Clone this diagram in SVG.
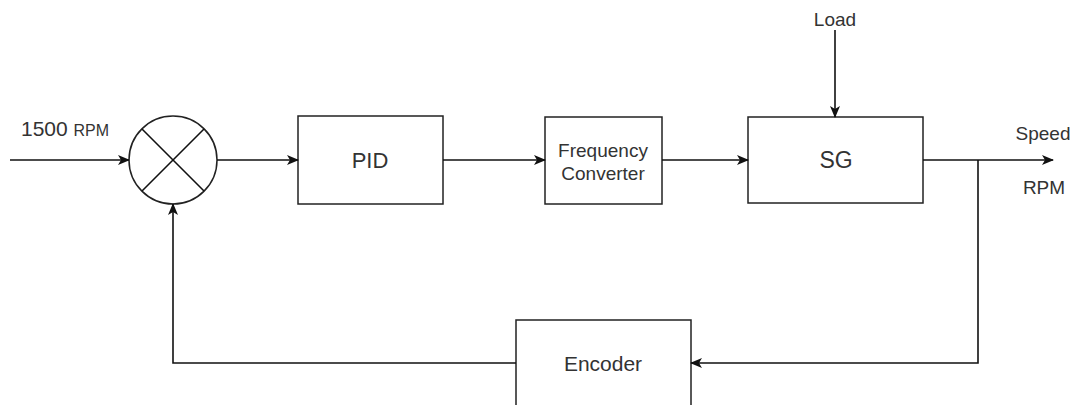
<svg xmlns="http://www.w3.org/2000/svg" width="1080" height="405" viewBox="0 0 1080 405">
<defs>
<style>
.box{fill:#fff;stroke:#222;stroke-width:1.5}
.ln{fill:none;stroke:#111;stroke-width:1.6}
text{font-family:"Liberation Sans",Arial,sans-serif;fill:#333}
</style>
<marker id="arr" viewBox="0 0 12 10" refX="11" refY="5" markerWidth="12" markerHeight="10" markerUnits="userSpaceOnUse" orient="auto">
<path d="M0,0 L12,5 L0,10 L3,5 Z" fill="#111"/>
</marker>
</defs>
<rect width="1080" height="405" fill="#fff"/>
<g id="sum">
<circle cx="173" cy="160" r="44" class="box"/>
<line x1="142" y1="129" x2="204" y2="191" class="ln"/>
<line x1="204" y1="129" x2="142" y2="191" class="ln"/>
</g>
<g id="pid"><rect x="298" y="116" width="145" height="88" class="box"/><text x="370" y="168" font-size="22" text-anchor="middle">PID</text></g>
<g id="fc"><rect x="545" y="117" width="117" height="87" class="box"/><text x="603" y="157" font-size="19" text-anchor="middle">Frequency</text><text x="603" y="180" font-size="19" text-anchor="middle">Converter</text></g>
<g id="sg"><rect x="748" y="117" width="175" height="86" class="box"/><text x="836" y="168" font-size="23" text-anchor="middle">SG</text></g>
<g id="encoder"><rect x="516" y="320" width="175" height="100" class="box"/><text x="603" y="371" font-size="21" text-anchor="middle">Encoder</text></g>
<g id="labels">
<text x="21" y="136" font-size="21">1500 <tspan font-size="16">RPM</tspan></text>
<text x="835" y="26" font-size="19" text-anchor="middle">Load</text>
<text x="1043" y="140" font-size="19" text-anchor="middle">Speed</text>
<text x="1044" y="194" font-size="19" text-anchor="middle">RPM</text>
</g>
<g id="connectors">
<line x1="10" y1="160" x2="129" y2="160" class="ln" marker-end="url(#arr)"/>
<line x1="217" y1="160" x2="298" y2="160" class="ln" marker-end="url(#arr)"/>
<line x1="443" y1="160" x2="545" y2="160" class="ln" marker-end="url(#arr)"/>
<line x1="662" y1="160" x2="748" y2="160" class="ln" marker-end="url(#arr)"/>
<line x1="835" y1="30" x2="835" y2="117" class="ln" marker-end="url(#arr)"/>
<line x1="923" y1="160" x2="1053" y2="160" class="ln" marker-end="url(#arr)"/>
<polyline points="978,160 978,363 691,363" class="ln" marker-end="url(#arr)"/>
<polyline points="516,363 173,363 173,204" class="ln" marker-end="url(#arr)"/>
</g>
</svg>
